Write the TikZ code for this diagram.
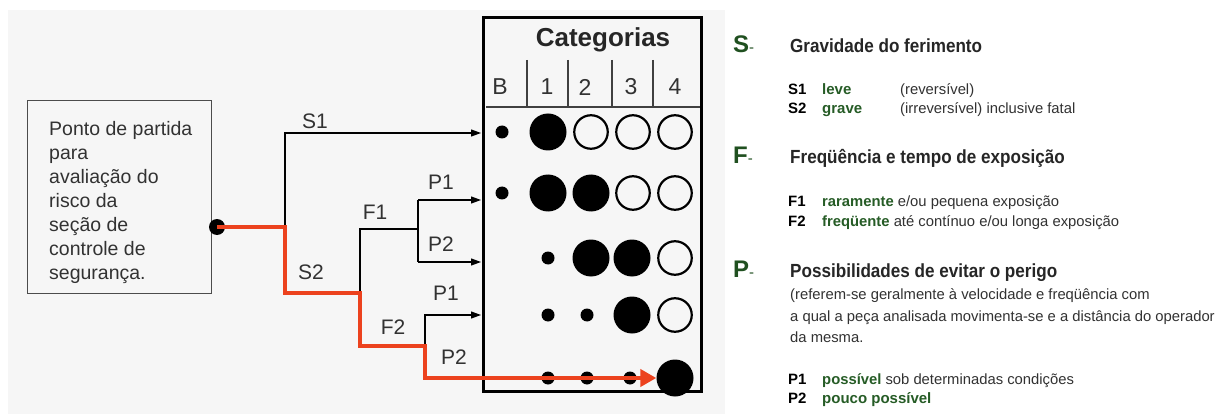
\documentclass[tikz,border=0pt]{standalone}
\usepackage{fontspec}
\setmainfont{Liberation Sans}
\usetikzlibrary{arrows.meta}
\definecolor{panelgray}{RGB}{246,246,246}
\definecolor{riskred}{RGB}{236,66,30}
\definecolor{legendgreen}{RGB}{38,92,38}
\definecolor{lettergreen}{RGB}{32,80,32}
\definecolor{bodygray}{RGB}{50,50,50}

\begin{document}
\begin{tikzpicture}[x=1pt,y=-1pt,
  branch/.style={line width=1.1pt, draw=black},
  branchend/.style={branch, -{Triangle[length=10pt,width=7pt]}},
  riskpath/.style={line width=4pt, draw=riskred, -{Triangle[length=16pt,width=17pt]}},
  treelabel/.style={inner sep=0, font=\fontsize{21}{24}\selectfont, text=bodygray},
  headlabel/.style={inner sep=0, font=\fontsize{23}{26}\selectfont, text=bodygray},
  bigdot/.style={circle, fill=black, inner sep=0, minimum size=37pt},
  opendot/.style={circle, draw=black, line width=2.2pt, inner sep=0, minimum size=33.5pt},
  smalldot/.style={circle, fill=black, inner sep=0, minimum size=13pt},
  letter/.style={anchor=base west, inner sep=0, text=lettergreen, font=\bfseries\fontsize{24}{27}\selectfont},
  heading/.style={anchor=base west, inner sep=0, text=black!85, xscale=0.9, font=\bfseries\fontsize{19}{22}\selectfont},
  keylabel/.style={anchor=base west, inner sep=0, font=\bfseries\fontsize{15}{18}\selectfont},
  term/.style={anchor=base west, inner sep=0, text=legendgreen, font=\bfseries\fontsize{15}{18}\selectfont},
  note/.style={anchor=base west, inner sep=0, text=bodygray, font=\fontsize{14.8}{18}\selectfont},
]
% canvas and grey panel behind the graph
\useasboundingbox (0,0) rectangle (1220,414);
\fill[white] (0,0) rectangle (1220,414);
\fill[panelgray] (8,10) rectangle (725,414);

% starting box
\node[draw=black!70, line width=0.8pt, anchor=north west, minimum width=184pt, minimum height=193pt, inner sep=0] (start) at (27,100) {};
\node[anchor=north west, align=left, inner sep=0, font=\fontsize{19.5}{24}\selectfont, text=bodygray] (starttext) at (49,121)
  {Ponto de partida\\para\\avaliação do\\risco da\\seção de\\controle de\\segurança.};
\node[circle, fill=black, inner sep=0, minimum size=16pt] (dot) at (217,227) {};

% category table
\node[draw=black, line width=2.6pt, anchor=north west, minimum width=218pt, minimum height=374pt, inner sep=0] (cat) at (482,16) {};
\node[inner sep=0, font=\bfseries\fontsize{26}{30}\selectfont, text=black!85] (cattitle) at (603,40) {Categorias};
\draw[line width=1.2pt, draw=black!75] (486,107) -- (700,107);
\foreach \sx in {527,568,612,653} \draw[line width=1.2pt, draw=black!75] (\sx,60) -- (\sx,107);
\node[headlabel] (hB) at (500,87) {B};
\node[headlabel] (h1) at (547,87) {1};
\node[headlabel] (h2) at (585,87) {2};
\node[headlabel] (h3) at (631,87) {3};
\node[headlabel] (h4) at (675,87) {4};

% row 1
\node[smalldot] (r1b) at (502,132) {};
\node[bigdot]   (r11) at (548,132) {};
\node[opendot]  (r12) at (591,132) {};
\node[opendot]  (r13) at (633,132) {};
\node[opendot]  (r14) at (675,132) {};
% row 2
\node[smalldot] (r2b) at (502,193) {};
\node[bigdot]   (r21) at (548,193) {};
\node[bigdot]   (r22) at (591,193) {};
\node[opendot]  (r23) at (633,193) {};
\node[opendot]  (r24) at (675,193) {};
% row 3
\node[smalldot] (r31) at (548,258) {};
\node[bigdot]   (r32) at (591,258) {};
\node[bigdot]   (r33) at (632,258) {};
\node[opendot]  (r34) at (675,258) {};
% row 4
\node[smalldot] (r41) at (548,315) {};
\node[smalldot] (r42) at (587,315) {};
\node[bigdot]   (r43) at (632,315) {};
\node[opendot]  (r44) at (675,315) {};
% row 5
\node[smalldot] (r51) at (548,378) {};
\node[smalldot] (r52) at (587,378) {};
\node[smalldot] (r53) at (630,378) {};
\node[bigdot]   (r54) at (675,378) {};

% branching points
\coordinate (sfork) at (285,227);
\coordinate (ffork) at (360,293);
\coordinate (pforka) at (418,229);
\coordinate (pforkb) at (425,346);
\coordinate (in1) at (481,133);
\coordinate (in2) at (481,200);
\coordinate (in3) at (481,262);
\coordinate (in4) at (481,315);

% decision tree
\draw[branchend] (sfork) |- (in1);
\draw[branch] (ffork) |- (pforka);
\draw[branch] (pforka |- in2) -- (pforka |- in3);
\draw[branchend] (pforka |- in2) -- (in2);
\draw[branchend] (pforka |- in3) -- (in3);
\draw[branchend] (pforkb) |- (in4);

% highlighted path
\draw[riskpath] (dot.center) -- (sfork) |- (ffork) |- (pforkb) |- (r54.west);

% tree labels
\node[treelabel] (lS1) at (315,121) {S1};
\node[treelabel] (lS2) at (311,272) {S2};
\node[treelabel] (lF1) at (375,212) {F1};
\node[treelabel] (lF2) at (393,327) {F2};
\node[treelabel] (lP1a) at (441,182) {P1};
\node[treelabel] (lP2a) at (441,244) {P2};
\node[treelabel] (lP1b) at (446,293) {P1};
\node[treelabel] (lP2b) at (454,357) {P2};

% legend: severity
\node[letter] (legS) at (733,53) {S{\mdseries\fontsize{15}{18}\selectfont -}};
\node[heading] (legShead) at (790,53) {Gravidade do ferimento};
\node[keylabel] (kS1) at (788,95) {S1};
\node[term] (tS1) at (822,95) {leve};
\node[note] (nS1) at (900,95) {(reversível)};
\node[keylabel] (kS2) at (788,114) {S2};
\node[term] (tS2) at (822,114) {grave};
\node[note] (nS2) at (900,114) {(irreversível) inclusive fatal};

% legend: frequency
\node[letter] (legF) at (733,164) {F{\mdseries\fontsize{15}{18}\selectfont -}};
\node[heading] (legFhead) at (790,164) {Freqüência e tempo de exposição};
\node[keylabel] (kF1) at (788,207) {F1};
\node[note] (nF1) at (822,207) {{\bfseries\color{legendgreen}raramente} e/ou pequena exposição};
\node[keylabel] (kF2) at (788,226) {F2};
\node[note] (nF2) at (822,226) {{\bfseries\color{legendgreen}freqüente} até contínuo e/ou longa exposição};

% legend: avoidance
\node[letter] (legP) at (733,277) {P{\mdseries\fontsize{15}{18}\selectfont -}};
\node[heading] (legPhead) at (790,277) {Possibilidades de evitar o perigo};
\node[note] (nPa) at (790,299) {(referem-se geralmente à velocidade e freqüência com};
\node[note] (nPb) at (790,321) {a qual a peça analisada movimenta-se e a distância do operador};
\node[note] (nPc) at (790,342) {da mesma.};
\node[keylabel] (kP1) at (788,384) {P1};
\node[note] (nP1) at (822,384) {{\bfseries\color{legendgreen}possível} sob determinadas condições};
\node[keylabel] (kP2) at (788,403) {P2};
\node[term] (tP2) at (822,403) {pouco possível};
\end{tikzpicture}
\end{document}
